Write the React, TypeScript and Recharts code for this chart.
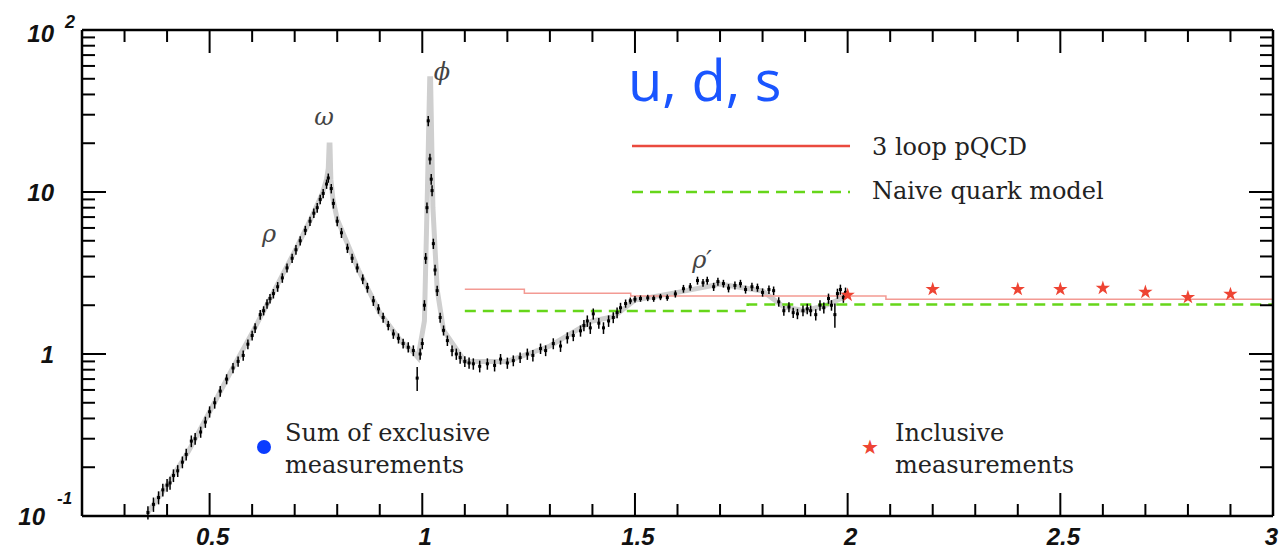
import { ComposedChart, XAxis, YAxis, Line, Scatter, ErrorBar } from "recharts";

// sqrt(s) ticks (GeV): minor every 0.1, labels on the half-integers
const xTicks = [
  0.3, 0.4, 0.5, 0.6, 0.7, 0.8, 0.9, 1, 1.1, 1.2, 1.3, 1.4, 1.5, 1.6, 1.7, 1.8, 1.9, 2, 2.1, 2.2, 2.3,
  2.4, 2.5, 2.6, 2.7, 2.8, 2.9, 3,
];
const xLabels = [0.5, 1, 1.5, 2, 2.5, 3];

// R ticks, log scale: decades + minors
const yTicks = [
  0.1, 0.2, 0.3, 0.4, 0.5, 0.6, 0.7, 0.8, 0.9, 1, 2, 3, 4, 5, 6, 7, 8, 9, 10, 20, 30, 40, 50, 60, 70,
  80, 90, 100,
];
const yDecades = [0.1, 1, 10, 100];

// sum of exclusive measurements: [sqrt(s), R, error]
const exclusive: [number, number, number][] = [
  [0.355, 0.105, 0.01], [0.368, 0.118, 0.012], [0.38, 0.13, 0.012], [0.39, 0.145, 0.013],
  [0.4, 0.155, 0.014], [0.407, 0.16, 0.015], [0.415, 0.178, 0.016], [0.425, 0.19, 0.016],
  [0.436, 0.215, 0.018], [0.445, 0.24, 0.02], [0.457, 0.29, 0.024], [0.466, 0.3, 0.025],
  [0.479, 0.33, 0.026], [0.49, 0.38, 0.03], [0.5, 0.44, 0.035], [0.512, 0.5, 0.04],
  [0.525, 0.59, 0.045], [0.54, 0.7, 0.05], [0.555, 0.82, 0.06], [0.567, 0.9, 0.065],
  [0.579, 0.98, 0.07], [0.59, 1.15, 0.08], [0.6, 1.3, 0.09], [0.607, 1.45, 0.1],
  [0.619, 1.75, 0.12], [0.627, 1.85, 0.12], [0.635, 2.04, 0.14], [0.642, 2.2, 0.15],
  [0.65, 2.36, 0.16], [0.66, 2.6, 0.18], [0.671, 2.95, 0.2], [0.682, 3.4, 0.22],
  [0.694, 3.9, 0.26], [0.703, 4.4, 0.3], [0.713, 5.0, 0.33], [0.725, 5.8, 0.38],
  [0.736, 6.6, 0.43], [0.745, 7.4, 0.5], [0.753, 8.0, 0.55], [0.76, 9.0, 0.6],
  [0.767, 9.8, 0.65], [0.775, 11.2, 0.75], [0.779, 12.2, 0.8], [0.786, 10.5, 0.7],
  [0.791, 8.5, 0.6], [0.8, 6.6, 0.45], [0.81, 5.6, 0.4], [0.824, 4.5, 0.3],
  [0.835, 3.9, 0.26], [0.847, 3.4, 0.22], [0.86, 2.9, 0.2], [0.871, 2.57, 0.18],
  [0.885, 2.13, 0.15], [0.897, 1.9, 0.13], [0.908, 1.68, 0.12], [0.92, 1.5, 0.1],
  [0.932, 1.33, 0.09], [0.944, 1.25, 0.09], [0.955, 1.16, 0.08], [0.967, 1.1, 0.08],
  [0.979, 1.05, 0.08], [0.988, 0.71, 0.12], [0.995, 1.0, 0.08], [1.0, 1.16, 0.09],
  [1.005, 2.0, 0.15], [1.008, 3.9, 0.3], [1.011, 8, 0.6], [1.014, 27.5, 2],
  [1.018, 16, 1.2], [1.021, 12, 0.9], [1.023, 10.2, 0.8], [1.026, 4.8, 0.35],
  [1.03, 3.3, 0.25], [1.035, 2.46, 0.18], [1.042, 1.68, 0.12], [1.05, 1.4, 0.1],
  [1.059, 1.21, 0.09], [1.07, 1.05, 0.08], [1.08, 1.0, 0.08], [1.089, 0.95, 0.08],
  [1.1, 0.9, 0.07], [1.11, 0.88, 0.07], [1.12, 0.87, 0.07], [1.135, 0.84, 0.07],
  [1.153, 0.87, 0.07], [1.17, 0.85, 0.07], [1.184, 0.93, 0.07], [1.2, 0.88, 0.07],
  [1.214, 0.91, 0.07], [1.23, 0.95, 0.07], [1.247, 1.0, 0.08], [1.26, 0.98, 0.08],
  [1.278, 1.08, 0.08], [1.29, 1.05, 0.08], [1.308, 1.16, 0.09], [1.325, 1.12, 0.09],
  [1.341, 1.26, 0.1], [1.355, 1.3, 0.1], [1.372, 1.39, 0.11], [1.38, 1.5, 0.12],
  [1.388, 1.6, 0.13], [1.395, 1.45, 0.12], [1.402, 1.77, 0.14], [1.415, 1.55, 0.12],
  [1.426, 1.45, 0.12], [1.438, 1.6, 0.13], [1.449, 1.68, 0.13], [1.458, 1.8, 0.14],
  [1.466, 1.93, 0.14], [1.478, 2.05, 0.12], [1.489, 2.13, 0.1], [1.5, 2.18, 0.1],
  [1.513, 2.2, 0.1], [1.53, 2.22, 0.1], [1.544, 2.2, 0.1], [1.56, 2.25, 0.1],
  [1.576, 2.23, 0.1], [1.595, 2.35, 0.12], [1.614, 2.53, 0.14], [1.63, 2.6, 0.14],
  [1.647, 2.84, 0.16], [1.66, 2.75, 0.15], [1.67, 2.84, 0.16], [1.685, 2.6, 0.15],
  [1.695, 2.8, 0.16], [1.708, 2.72, 0.15], [1.72, 2.55, 0.15], [1.735, 2.65, 0.15],
  [1.748, 2.72, 0.15], [1.76, 2.5, 0.14], [1.775, 2.6, 0.15], [1.788, 2.57, 0.15],
  [1.8, 2.4, 0.14], [1.815, 2.5, 0.15], [1.826, 2.46, 0.15], [1.838, 2.1, 0.14],
  [1.85, 1.85, 0.13], [1.862, 1.95, 0.14], [1.872, 1.8, 0.13], [1.882, 1.77, 0.13],
  [1.895, 1.85, 0.14], [1.905, 1.9, 0.14], [1.913, 1.85, 0.14], [1.925, 1.75, 0.14],
  [1.935, 2.0, 0.15], [1.944, 1.93, 0.15], [1.955, 2.2, 0.16], [1.962, 2.0, 0.15],
  [1.97, 1.75, 0.3], [1.976, 2.36, 0.17], [1.983, 2.5, 0.18], [1.99, 2.23, 0.16],
  [1.995, 2.4, 0.17],
];

// light grey band drawn under the points (resonance shapes)
const bandX = [
  0.355, 0.4, 0.45, 0.5, 0.55, 0.6, 0.65, 0.7, 0.74, 0.765, 0.775, 0.779, 0.781, 0.783, 0.785, 0.79,
  0.8, 0.85, 0.9, 0.95, 0.98, 0.99, 1.005, 1.012, 1.0175, 1.0195, 1.025, 1.035, 1.05, 1.1, 1.2, 1.3,
  1.4, 1.45, 1.5, 1.6, 1.7, 1.8, 1.85, 1.9, 1.95, 2.0,
];
const bandR = [
  0.105, 0.155, 0.25, 0.44, 0.78, 1.35, 2.4, 4.3, 7.0, 9.8, 12, 14, 19.5, 19.5, 12, 9, 6.8, 3.3, 1.8,
  1.2, 1.02, 0.95, 1.6, 10, 50, 50, 8, 2.5, 1.4, 0.9, 0.9, 1.12, 1.6, 1.7, 2.15, 2.4, 2.7, 2.45,
  1.95, 1.85, 2.0, 2.3,
];

// 3 loop pQCD (step) and naive quark model
const pqcdX = [1.1, 1.24, 1.49, 2.09, 3.0];
const pqcdR = [2.51, 2.37, 2.28, 2.18, 2.18];
const naiveX = [1.1, 1.765, 3.0];
const naiveR = [1.84, 2.02, 2.02];

// inclusive measurements
const inclX = [2.0, 2.2, 2.4, 2.5, 2.6, 2.7, 2.8, 2.9];
const inclR = [2.31, 2.51, 2.51, 2.51, 2.55, 2.41, 2.24, 2.34];

const exclData = exclusive.map(([x, y, err]) => ({ x, y, err }));
const bandData = bandX.map((x, i) => ({ x, y: bandR[i] }));
const pqcdData = pqcdX.map((x, i) => ({ x, y: pqcdR[i] }));
const naiveData = naiveX.map((x, i) => ({ x, y: naiveR[i] }));
const inclData = inclX.map((x, i) => ({ x, y: inclR[i] }));

const axisFont = "'Liberation Sans', Arial, sans-serif";
const serif = "'DejaVu Serif', serif";

const isMajorX = (v: number) => xLabels.some((m) => Math.abs(m - v) < 1e-6);
const isDecade = (v: number) => yDecades.some((d) => Math.abs(d - v) < 1e-9);

function BottomTick({ x, y, payload }: any) {
  const v = payload.value;
  const major = isMajorX(v);
  // the last label sits on the frame edge: keep it inside the picture
  const last = Math.abs(v - 3) < 1e-6;
  return (
    <g>
      <line x1={x} x2={x} y1={y} y2={y - (major ? 23 : 12)} stroke="#000" strokeWidth={2} />
      {major && (
        <text
          x={last ? 1278 : x + 3}
          y={y + 29}
          textAnchor={last ? "end" : "middle"}
          fontFamily={axisFont}
          fontWeight="bold"
          fontStyle="italic"
          fontSize={24}
          fill="#111"
        >
          {String(v)}
        </text>
      )}
    </g>
  );
}

function TopTick({ x, y, payload }: any) {
  const major = isMajorX(payload.value);
  return <line x1={x} x2={x} y1={y} y2={y + (major ? 23 : 12)} stroke="#000" strokeWidth={2} />;
}

function LeftTick({ x, y, payload }: any) {
  const v = payload.value;
  const dec = isDecade(v);
  const txt = { fontFamily: axisFont, fontWeight: "bold", fontStyle: "italic", fill: "#111" } as const;
  let label = null;
  if (v === 100) {
    label = (
      <>
        <text x={x - 28} y={y + 12} textAnchor="end" fontSize={24} {...txt}>10</text>
        <text x={x - 17} y={y - 2} fontSize={18} {...txt}>2</text>
      </>
    );
  } else if (v === 10 || v === 1) {
    label = (
      <text x={x - 28} y={y + 9} textAnchor="end" fontSize={24} {...txt}>
        {v === 10 ? "10" : "1"}
      </text>
    );
  } else if (v === 0.1) {
    label = (
      <>
        <text x={x - 37} y={y + 9} textAnchor="end" fontSize={24} {...txt}>10</text>
        <text x={x - 25} y={y - 12} fontSize={17} {...txt}>-1</text>
      </>
    );
  }
  return (
    <g>
      <line x1={x} x2={x + (dec ? 24 : 13)} y1={y} y2={y} stroke="#000" strokeWidth={2} />
      {label}
    </g>
  );
}

function RightTick({ x, y, payload }: any) {
  const dec = isDecade(payload.value);
  return <line x1={x} x2={x - (dec ? 24 : 13)} y1={y} y2={y} stroke="#000" strokeWidth={2} />;
}

function PointShape({ cx, cy }: any) {
  if (cx == null || cy == null) return null;
  return <rect x={cx - 1.5} y={cy - 1.5} width={3} height={3} fill="#000" />;
}

export default function App() {
  return (
    <div style={{ position: "absolute", left: 0, top: 0, width: 1279, height: 552, background: "#fff" }}>
      <ComposedChart width={1279} height={552} margin={{ top: 0, right: 0, bottom: 0, left: 0 }}>
        <XAxis
          xAxisId="b"
          dataKey="x"
          type="number"
          domain={[0.2, 3]}
          allowDataOverflow
          ticks={xTicks}
          interval={0}
          height={36}
          tickSize={0}
          tickMargin={0}
          tick={<BottomTick />}
          axisLine={{ stroke: "#000", strokeWidth: 2.5 }}
        />
        <XAxis
          xAxisId="t"
          orientation="top"
          dataKey="x"
          type="number"
          domain={[0.2, 3]}
          allowDataOverflow
          ticks={xTicks}
          interval={0}
          height={30}
          tickSize={0}
          tickMargin={0}
          tick={<TopTick />}
          axisLine={{ stroke: "#000", strokeWidth: 2.5 }}
        />
        <YAxis
          yAxisId="l"
          type="number"
          scale="log"
          domain={[0.1, 100]}
          allowDataOverflow
          ticks={yTicks}
          interval={0}
          width={82}
          tickSize={0}
          tickMargin={0}
          tick={<LeftTick />}
          axisLine={{ stroke: "#000", strokeWidth: 2.5 }}
        />
        <YAxis
          yAxisId="r"
          orientation="right"
          type="number"
          scale="log"
          domain={[0.1, 100]}
          allowDataOverflow
          ticks={yTicks}
          interval={0}
          width={6}
          tickSize={0}
          tickMargin={0}
          tick={<RightTick />}
          axisLine={{ stroke: "#000", strokeWidth: 2.5 }}
        />

        {/* grey resonance band */}
        <Line
          xAxisId="b"
          yAxisId="l"
          data={bandData}
          dataKey="y"
          type="linear"
          stroke="#cfcfcf"
          strokeWidth={5}
          dot={false}
          isAnimationActive={false}
        />
        <Line
          xAxisId="t"
          yAxisId="r"
          data={pqcdData}
          dataKey="y"
          type="stepAfter"
          stroke="#f39a93"
          strokeWidth={1.5}
          dot={false}
          isAnimationActive={false}
        />
        <Line
          xAxisId="b"
          yAxisId="l"
          data={naiveData}
          dataKey="y"
          type="stepAfter"
          stroke="#66d61a"
          strokeWidth={2.5}
          strokeDasharray="11 7"
          dot={false}
          isAnimationActive={false}
        />
        <Scatter
          xAxisId="b"
          yAxisId="l"
          data={exclData}
          dataKey="y"
          shape={<PointShape />}
          isAnimationActive={false}
        >
          <ErrorBar dataKey="err" direction="y" width={0} stroke="#000" strokeWidth={1.5} />
        </Scatter>
        <Scatter
          xAxisId="b"
          yAxisId="l"
          data={inclData}
          dataKey="y"
          shape="star"
          fill="#ee4433"
          isAnimationActive={false}
        />
      </ComposedChart>

      {/* in-plot annotations */}
      <svg
        width={1279}
        height={552}
        style={{ position: "absolute", left: 0, top: 0, pointerEvents: "none" }}
      >
        <text x={628} y={101} fontFamily="'Open Sans', sans-serif" fontSize={56} fill="#1a55ff">
          u, d, s
        </text>
        <line x1={632} x2={850} y1={146} y2={146} stroke="#ea4a3e" strokeWidth={2.5} />
        <text x={872} y={155} fontFamily={serif} fontSize={24} fill="#222">3 loop pQCD</text>
        <line x1={632} x2={850} y1={192} y2={192} stroke="#66d61a" strokeWidth={2.5} strokeDasharray="11 7" />
        <text x={872} y={199} fontFamily={serif} fontSize={24} fill="#222">Naive quark model</text>

        <circle cx={264} cy={447} r={7} fill="#0b3cff" />
        <text x={285} y={441} fontFamily={serif} fontSize={24} fill="#222">Sum of exclusive</text>
        <text x={285} y={473} fontFamily={serif} fontSize={24} fill="#222">measurements</text>

        <text x={870} y={454} textAnchor="middle" fontSize={20} fill="#ee4433">★</text>
        <text x={895} y={441} fontFamily={serif} fontSize={24} fill="#222">Inclusive</text>
        <text x={895} y={473} fontFamily={serif} fontSize={24} fill="#222">measurements</text>

        <g fontFamily={serif} fontStyle="italic" fontSize={24} fill="#444" textAnchor="middle">
          <text x={269} y={242}>ρ</text>
          <text x={324} y={125}>ω</text>
          <text x={442} y={80}>ϕ</text>
          <text x={702} y={268}>ρ′</text>
        </g>
      </svg>
    </div>
  );
}
